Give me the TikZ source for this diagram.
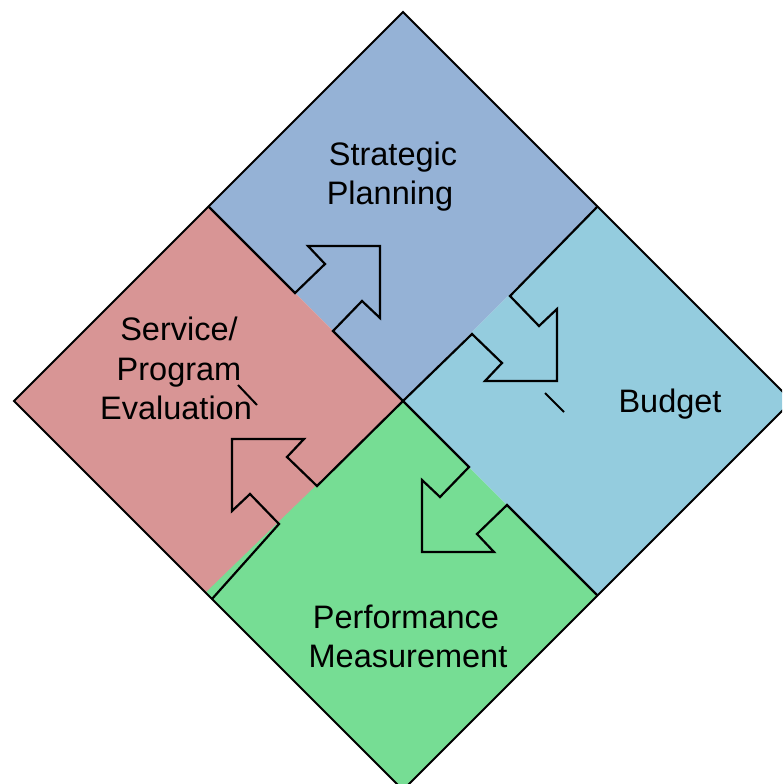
\documentclass[tikz,border=0pt]{standalone}
\usepackage{fontspec}
\setmainfont{Liberation Sans}
\definecolor{cTop}{RGB}{149,178,214}
\definecolor{cRight}{RGB}{148,204,222}
\definecolor{cBottom}{RGB}{118,221,148}
\definecolor{cLeft}{RGB}{216,149,149}
\begin{document}
\begin{tikzpicture}[x=1pt,y=-1pt,
  divider/.style={draw=black,line width=2.2pt,line join=miter,line cap=butt},
  rim/.style={draw=black,line width=2pt,line join=miter},
  straymark/.style={draw=black,line width=2pt},
  lbl/.style={font=\fontsize{32.5}{39}\selectfont,anchor=base,inner sep=0pt}]
\useasboundingbox (0,0) rectangle (782,784);
\clip (0,0) rectangle (782,784);
\fill[white] (0,0) rectangle (782,784);
% corners of the big diamond
\coordinate (C) at (403,401);
\coordinate (T) at (403,12);
\coordinate (R) at (792,401);
\coordinate (B) at (403,790);
\coordinate (L) at (14,401);
\coordinate (TL) at (208.5,206.5);
\coordinate (TR) at (597.5,206.5);
\coordinate (BR) at (597.5,595.5);
\coordinate (BL) at (208.5,595.5);
\coordinate (BLd) at (212,599);
% quadrant fills
\begin{scope}
\clip (T) -- (R) -- (B) -- (L) -- cycle;
\fill[cBottom] (C) -- (BR) -- (B) -- (190,580) -- cycle;
\fill[cTop] (C) -- (TL) -- (T) -- (TR) -- cycle;
\fill[cRight] (C) -- (TR) -- (R) -- (BR) -- cycle;
\fill[cLeft] (C) -- (205,593) -- (L) -- (TL) -- cycle;
\end{scope}
% dividers with block arrows
% arrow 1: Service/Program Evaluation -> Strategic Planning
\draw[divider] (TL) -- (295,293) -- (325,264) -- (308,246) -- (380,246)
  -- (380,318) -- (362,301) -- (333,331) -- (C);
% arrow 2: Strategic Planning -> Budget
\draw[divider] (TR) -- (510,296) -- (539,326) -- (557,309) -- (557,381)
  -- (485,381) -- (502,363) -- (472,334) -- (C);
% arrow 3: Budget -> Performance Measurement
\draw[divider] (BR) -- (507,505) -- (477,534) -- (494,552) -- (422,552)
  -- (422,480) -- (440,497) -- (469,467) -- (C);
% arrow 4: Performance Measurement -> Service/Program Evaluation
\draw[divider] (BLd) -- (279,524) -- (250,494) -- (232,511) -- (232,439)
  -- (304,439) -- (287,457) -- (317,486) -- (C);
% outer border
\draw[rim] (T) -- (R) -- (B) -- (L) -- cycle;
% small stray marks
\coordinate (m1a) at (545,393);
\coordinate (m1b) at (564,412);
\draw[straymark] (m1a) -- (m1b);
\coordinate (m2a) at (238,385);
\coordinate (m2b) at (257,405);
\draw[straymark] (m2a) -- (m2b);
% labels
\node[lbl] (sp1) at (393,165) {Strategic};
\node[lbl] (sp2) at (390,204) {Planning};
\node[lbl] (sv1) at (179,340) {Service/};
\node[lbl] (sv2) at (179,380) {Program};
\node[lbl] (sv3) at (176,419) {Evaluation};
\node[lbl] (bu) at (670,412) {Budget};
\node[lbl] (pm1) at (406,628) {Performance};
\node[lbl] (pm2) at (408,667) {Measurement};
\end{tikzpicture}
\end{document}
